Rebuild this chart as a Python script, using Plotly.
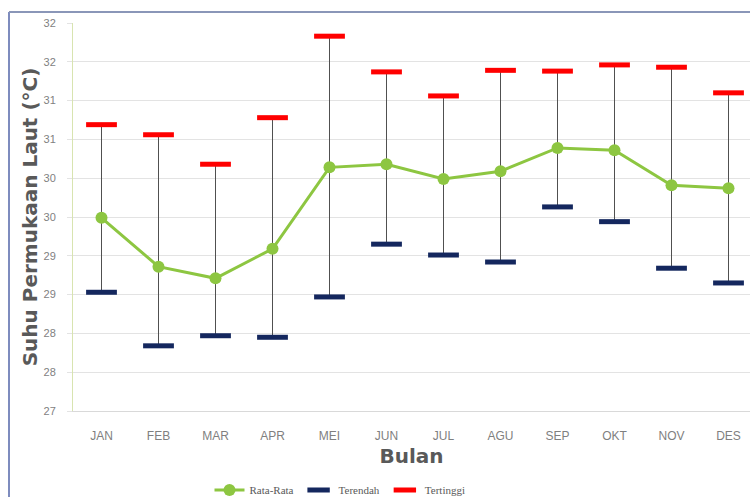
import plotly.graph_objects as go

months = ["JAN", "FEB", "MAR", "APR", "MEI", "JUN", "JUL", "AGU", "SEP", "OKT", "NOV", "DES"]
rata_rata = [29.49, 28.86, 28.71, 29.09, 30.14, 30.18, 29.99, 30.09, 30.39, 30.36, 29.91, 29.87]
terendah = [28.53, 27.84, 27.97, 27.95, 28.47, 29.15, 29.01, 28.92, 29.63, 29.44, 28.84, 28.65]
tertinggi = [30.69, 30.56, 30.18, 30.78, 31.83, 31.37, 31.06, 31.39, 31.38, 31.46, 31.43, 31.10]
y_tickvals = [27, 27.5, 28, 28.5, 29, 29.5, 30, 30.5, 31, 31.5, 32]
y_ticktext = ["27", "28", "28", "29", "29", "30", "30", "31", "31", "32", "32"]

W, H = 750, 497
ML, MR, MT, MB = 73, 0, 23, 86
PW, PH = W - ML - MR, H - MT - MB

def px_x(p):
    return (p - ML) / PW

def px_y(p):
    return (H - MB - p) / PH

xs = list(range(len(months)))

stem_x, stem_y = [], []
for i, lo, hi in zip(xs, terendah, tertinggi):
    stem_x += [i, i, None]
    stem_y += [lo, hi, None]

fig = go.Figure()
fig.add_trace(go.Scatter(x=stem_x, y=stem_y, mode="lines",
                         line=dict(color="#505050", width=1),
                         showlegend=False, hoverinfo="skip"))
fig.add_trace(go.Scatter(x=xs, y=rata_rata, mode="lines+markers", name="Rata-Rata",
                         line=dict(color="#8DC641", width=3),
                         marker=dict(color="#8DC641", size=12)))
fig.add_trace(go.Scatter(x=xs, y=terendah, mode="markers", name="Terendah",
                         marker=dict(symbol="line-ew", size=22,
                                     line=dict(color="#14275E", width=5))))
fig.add_trace(go.Scatter(x=xs, y=tertinggi, mode="markers", name="Tertinggi",
                         marker=dict(symbol="line-ew", size=22,
                                     line=dict(color="#FF0000", width=5))))

fig.update_layout(
    width=W, height=H,
    margin=dict(l=ML, r=MR, t=MT, b=MB, autoexpand=False),
    paper_bgcolor="white", plot_bgcolor="white",
    font=dict(family="Liberation Sans, Arial", color="#7F7F7F", size=11),
    legend=dict(orientation="h", x=px_x(340), xanchor="center",
                y=px_y(490), yanchor="middle",
                font=dict(family="Liberation Serif, Times New Roman", size=11, color="#595959"),
                bgcolor="rgba(0,0,0,0)", itemwidth=30, tracegroupgap=0),
    xaxis=dict(range=[-0.5, -0.5 + PW / 57.0], tickvals=xs, ticktext=months,
               automargin=False,
               showgrid=False, zeroline=False, showline=True, linecolor="#D9D9D9",
               ticks="", ticklabelstandoff=14,
               tickfont=dict(size=12, color="#7F7F7F"),
               title=dict(text="Bulan", standoff=6,
                          font=dict(family="DejaVu Sans", size=20, color="#595959", weight="bold"))),
    yaxis=dict(range=[27, 32], tickvals=y_tickvals, ticktext=y_ticktext,
               automargin=False,
               showgrid=True, gridcolor="#E3E3E3", gridwidth=1, zeroline=False,
               showline=True, linecolor="#D8E4B0", ticks="outside", ticklen=5, tickcolor="#E3E3E3",
               ticklabelstandoff=9,
               tickfont=dict(size=11, color="#7F7F7F"),
               title=dict(text="Suhu Permukaan Laut (°C)", standoff=0,
                          font=dict(family="DejaVu Sans", size=20, color="#595959", weight="bold"))),
    shapes=[
        dict(type="line", xref="paper", yref="paper", x0=px_x(9), x1=px_x(9),
             y0=px_y(12), y1=px_y(510), line=dict(color="#7E8CBE", width=2)),
        dict(type="line", xref="paper", yref="paper", x0=px_x(9), x1=px_x(760),
             y0=px_y(12), y1=px_y(12), line=dict(color="#8A96B8", width=2)),
    ],
)

fig.write_html("out.html", config={"displayModeBar": False},
               post_script="document.body.style.margin='0';document.body.style.overflow='hidden';")
